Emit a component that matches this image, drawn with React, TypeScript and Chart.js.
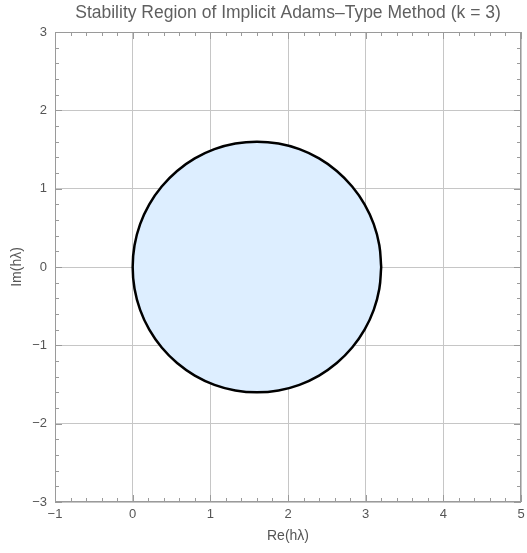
import React, { useEffect, useRef } from "react";
import { Chart, registerables } from "chart.js";

Chart.register(...registerables);

// Boundary of the stability region, sampled every 10 degrees around the curve
const boundaryRe = [
  3.2, 3.176, 3.104, 2.986, 2.826, 2.628, 2.4, 2.147, 1.878, 1.6,
  1.322, 1.053, 0.8, 0.572, 0.374, 0.214, 0.096, 0.024, 0.0,
  0.024, 0.096, 0.214, 0.374, 0.572, 0.8, 1.053, 1.322, 1.6,
  1.878, 2.147, 2.4, 2.628, 2.826, 2.986, 3.104, 3.176, 3.2,
];
const boundaryIm = [
  0.0, 0.278, 0.547, 0.8, 1.028, 1.226, 1.386, 1.504, 1.576, 1.6,
  1.576, 1.504, 1.386, 1.226, 1.028, 0.8, 0.547, 0.278, 0.0,
  -0.278, -0.547, -0.8, -1.028, -1.226, -1.386, -1.504, -1.576, -1.6,
  -1.576, -1.504, -1.386, -1.226, -1.028, -0.8, -0.547, -0.278, 0.0,
];

const xRange = [-1, 5];
const yRange = [-3, 3];
const titleText = "Stability Region of Implicit Adams\u2013Type Method (k = 3)";
const xLabel = "Re(h\u03bb)";
const yLabel = "Im(h\u03bb)";

const FONT = "'Liberation Sans', Arial, sans-serif";

// Title centred over the plotting area
const plotTitlePlugin = {
  id: "plotTitle",
  afterDraw(chart: any) {
    const { ctx, chartArea: a } = chart;
    ctx.save();
    ctx.fillStyle = "#5f5f5f";
    ctx.font = `17.5px ${FONT}`;
    ctx.textAlign = "center";
    ctx.textBaseline = "middle";
    ctx.fillText(titleText, (a.left + a.right) / 2, 13);
    ctx.restore();
  },
};

// Frame around the plot with inward major/minor ticks on all four sides
const framePlugin = {
  id: "frameTicks",
  afterDatasetsDraw(chart: any) {
    const { ctx, chartArea: a, scales } = chart;
    const xs = scales.x;
    const ys = scales.y;
    ctx.save();
    ctx.strokeStyle = "#9a9a9a";
    ctx.lineWidth = 1;
    ctx.strokeRect(a.left + 0.5, a.top + 0.5, a.right - a.left - 1, a.bottom - a.top - 1);
    ctx.beginPath();
    for (let i = 0; i <= (xRange[1] - xRange[0]) * 5; i++) {
      const v = xRange[0] + i * 0.2;
      const len = i % 5 === 0 ? 7 : 4;
      const px = Math.round(xs.getPixelForValue(v)) + 0.5;
      ctx.moveTo(px, a.bottom);
      ctx.lineTo(px, a.bottom - len);
      ctx.moveTo(px, a.top);
      ctx.lineTo(px, a.top + len);
    }
    for (let i = 0; i <= (yRange[1] - yRange[0]) * 5; i++) {
      const v = yRange[0] + i * 0.2;
      const len = i % 5 === 0 ? 7 : 4;
      const py = Math.round(ys.getPixelForValue(v)) + 0.5;
      ctx.moveTo(a.left, py);
      ctx.lineTo(a.left + len, py);
      ctx.moveTo(a.right, py);
      ctx.lineTo(a.right - len, py);
    }
    ctx.stroke();
    ctx.restore();
  },
};

const fmt = (v: any) => (Number(v) < 0 ? "\u2212" + Math.abs(Number(v)) : String(v));

export default function App() {
  const canvasRef = useRef<HTMLCanvasElement | null>(null);

  useEffect(() => {
    const canvas = canvasRef.current;
    if (!canvas) return;
    const points = boundaryRe.map((re, i) => ({ x: re, y: boundaryIm[i] }));
    const chart = new Chart(canvas, {
      type: "scatter",
      data: {
        datasets: [
          {
            data: points,
            showLine: true,
            borderColor: "#000000",
            borderWidth: 2.5,
            backgroundColor: "rgba(221, 238, 255, 1)",
            fill: "shape",
            pointRadius: 0,
            tension: 0.4,
          } as any,
        ],
      },
      options: {
        animation: false,
        responsive: false,
        devicePixelRatio: 1,
        layout: { padding: { left: 0, right: 6, top: 32, bottom: 0 } },
        plugins: {
          legend: { display: false },
          tooltip: { enabled: false },
          title: { display: false },
        },
        scales: {
          x: {
            type: "linear",
            min: xRange[0],
            max: xRange[1],
            afterFit: (s: any) => {
              s.height = 51;
              s.paddingLeft = 0;
              s.paddingRight = 0;
            },
            border: { display: false },
            grid: { color: "#c6c6c6", lineWidth: 1, drawTicks: false },
            ticks: {
              stepSize: 1,
              padding: 5,
              color: "#555555",
              font: { family: FONT, size: 13 },
              callback: fmt,
            },
            title: {
              display: true,
              text: xLabel,
              color: "#555555",
              font: { family: FONT, size: 14 },
              padding: { top: 0, bottom: 8 },
            },
          },
          y: {
            type: "linear",
            min: yRange[0],
            max: yRange[1],
            afterFit: (s: any) => {
              s.width = 55;
              s.paddingTop = 0;
              s.paddingBottom = 0;
            },
            border: { display: false },
            grid: { color: "#c6c6c6", lineWidth: 1, drawTicks: false },
            ticks: {
              stepSize: 1,
              padding: 8,
              color: "#555555",
              font: { family: FONT, size: 13 },
              callback: fmt,
            },
            title: {
              display: true,
              text: yLabel,
              color: "#555555",
              font: { family: FONT, size: 14 },
              padding: { top: 9, bottom: 0 },
            },
          },
        },
      },
      plugins: [framePlugin, plotTitlePlugin],
    });
    return () => chart.destroy();
  }, []);

  return (
    <div style={{ position: "fixed", left: 0, top: 0, width: 527, height: 553, background: "#ffffff" }}>
      <canvas ref={canvasRef} width={527} height={553} style={{ display: "block" }} />
    </div>
  );
}
